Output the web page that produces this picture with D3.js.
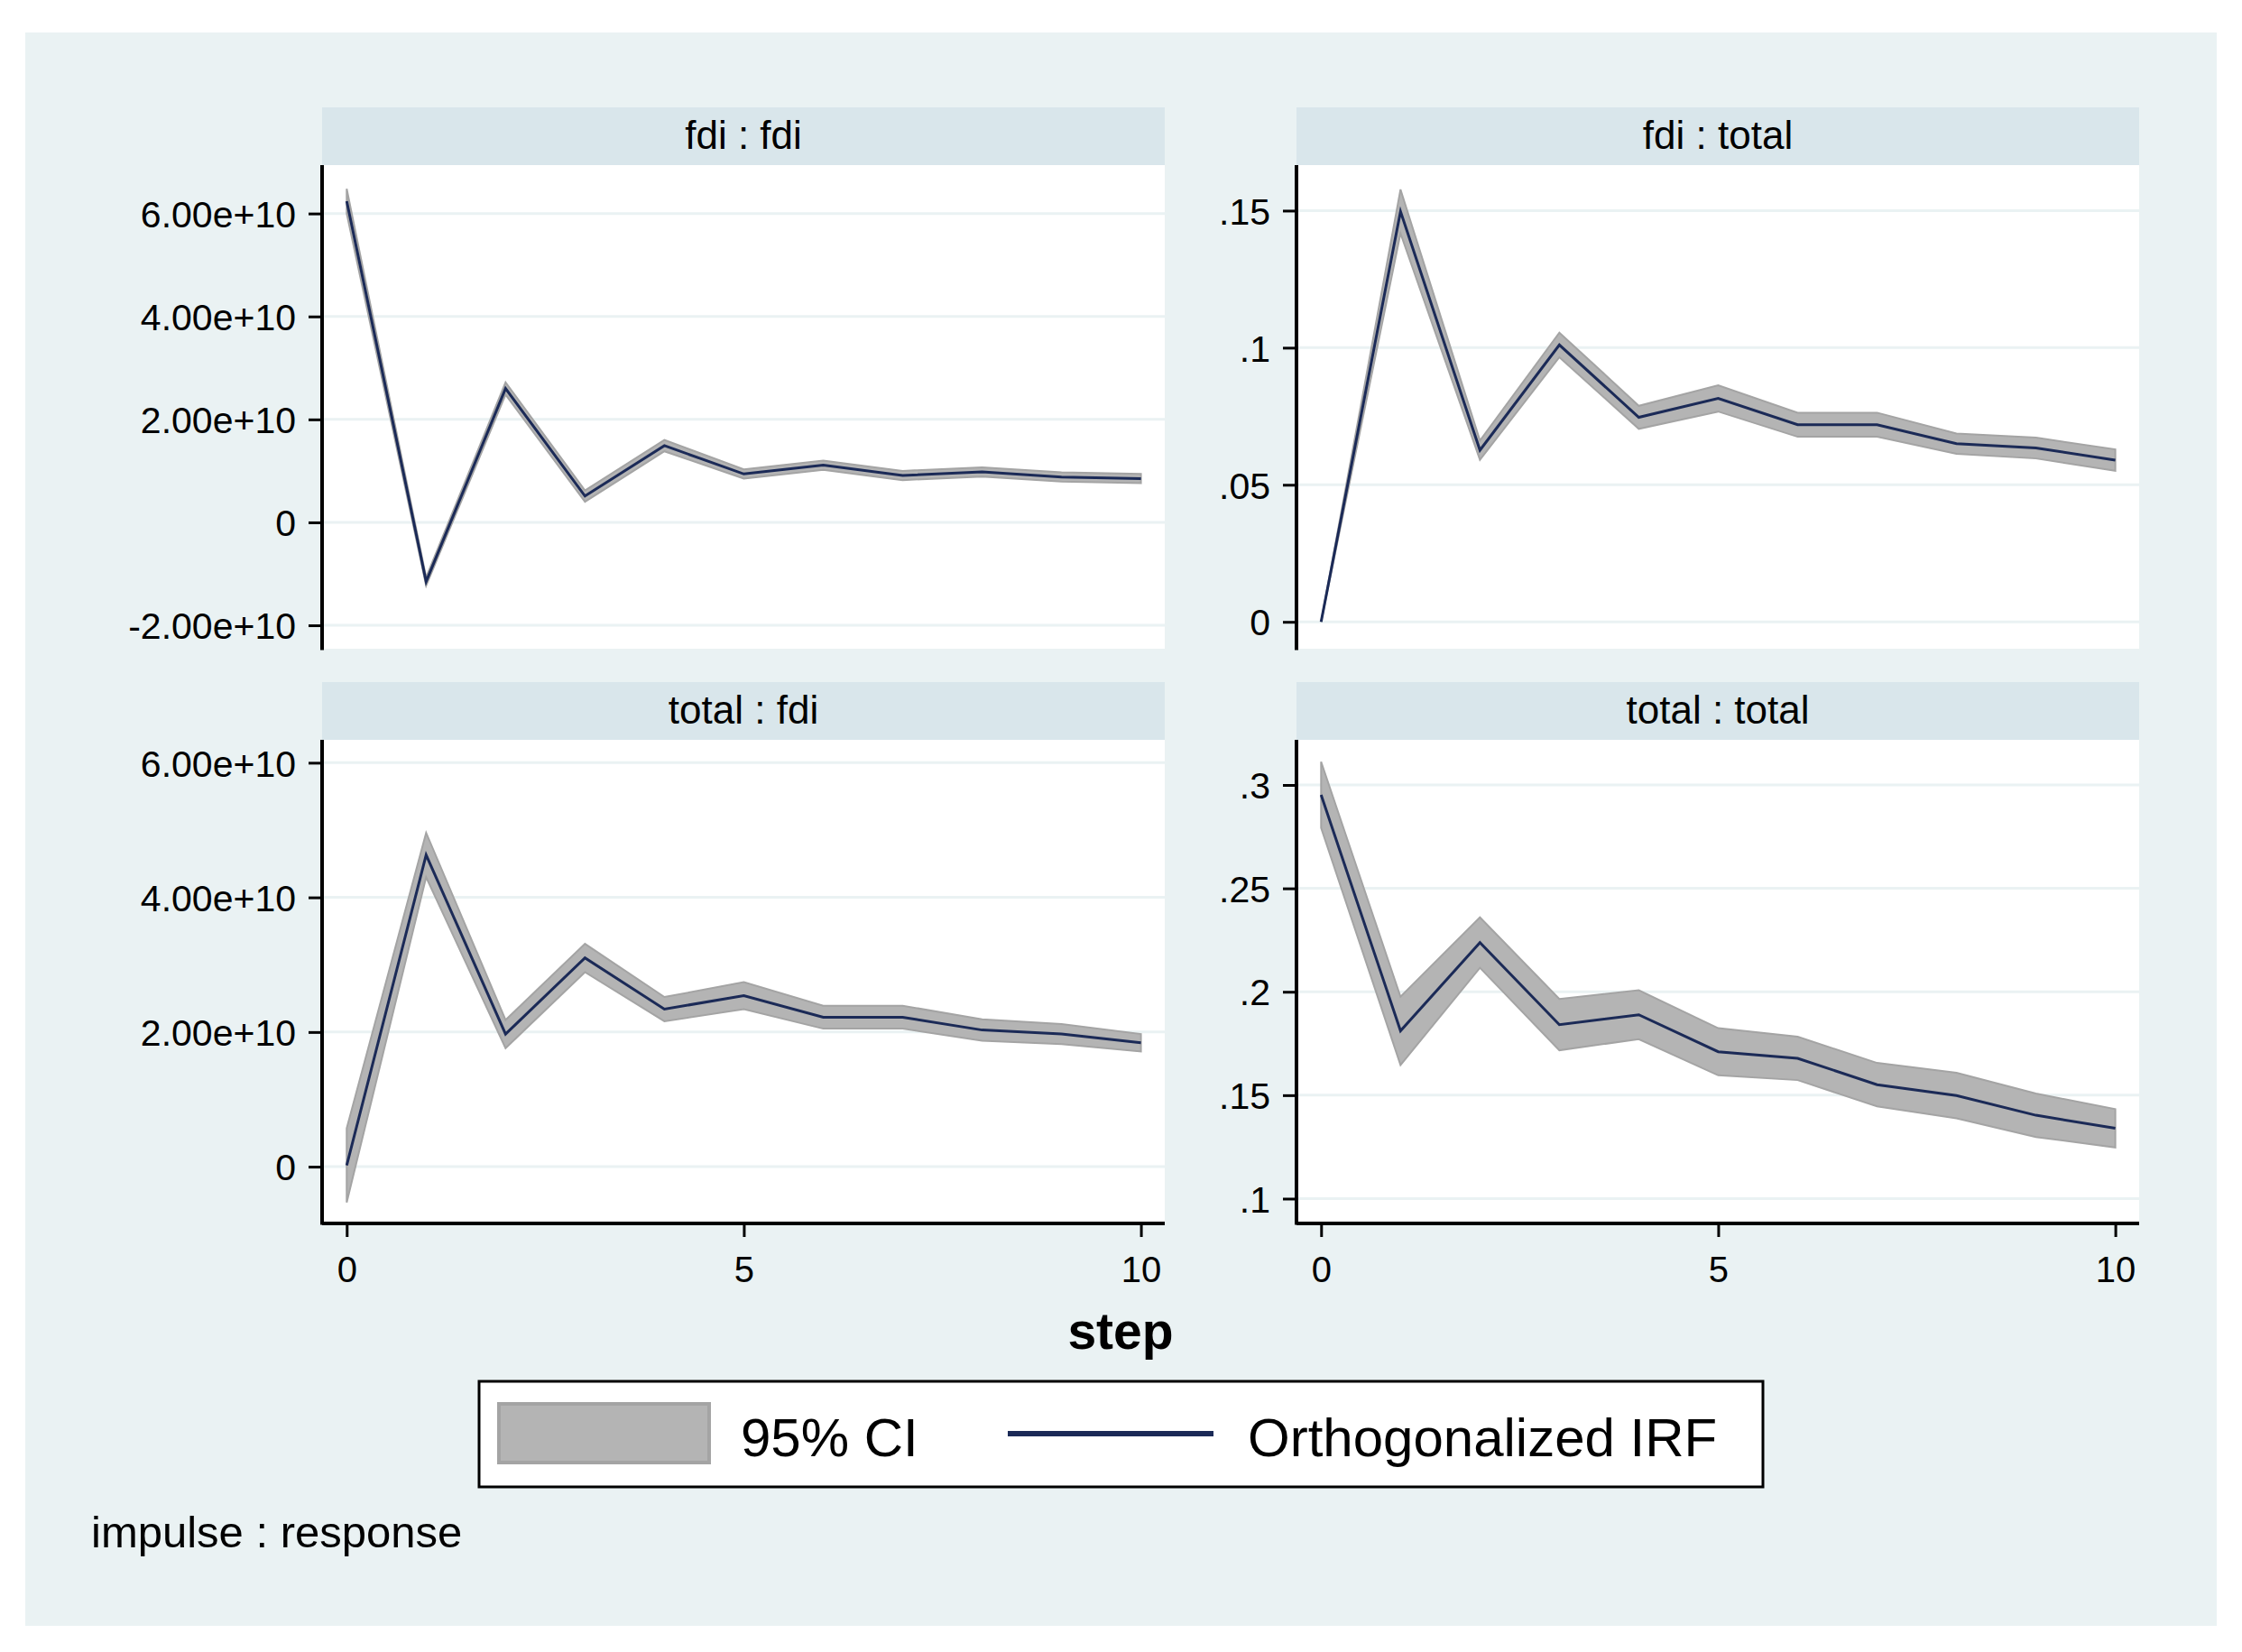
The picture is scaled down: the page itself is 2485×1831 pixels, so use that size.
<!DOCTYPE html>
<html>
<head>
<meta charset="utf-8">
<script src="https://cdn.jsdelivr.net/npm/d3@7"></script>
<style>
  html, body { margin: 0; padding: 0; background: #ffffff; }
  svg { display: block; }
  text { font-family: "Liberation Sans", Arial, sans-serif; fill: #000000; }
</style>
</head>
<body>
<div id="chart"></div>
<script>
/*global d3*/

// impulse : response panels, in the order they are laid out
var panelTitles = ["fdi : fdi", "fdi : total", "total : fdi", "total : total"];
var steps = [0, 1, 2, 3, 4, 5, 6, 7, 8, 9, 10];
var xTicks = [0, 5, 10];

// orthogonalized IRF, one array per panel
var irfFdiFdi = [6.24e10, -1.15e10, 2.60e10, 0.51e10, 1.49e10, 0.94e10,
  1.11e10, 0.91e10, 0.98e10, 0.88e10, 0.85e10];
var irfFdiTotal = [0, 0.1497, 0.0626, 0.101, 0.0746, 0.0815,
  0.0719, 0.0719, 0.065, 0.0634, 0.059];
var irfTotalFdi = [0.02e10, 4.63e10, 1.97e10, 3.10e10, 2.34e10, 2.54e10,
  2.22e10, 2.22e10, 2.03e10, 1.97e10, 1.84e10];
var irfTotalTotal = [0.2952, 0.1811, 0.2238, 0.1841, 0.1889, 0.171,
  0.1678, 0.1551, 0.1498, 0.1403, 0.134];

// 95% CI bounds
var loFdiFdi = [6.00e10, -1.23e10, 2.48e10, 0.40e10, 1.38e10, 0.85e10,
  1.02e10, 0.82e10, 0.89e10, 0.79e10, 0.76e10];
var hiFdiFdi = [6.48e10, -1.07e10, 2.72e10, 0.62e10, 1.60e10, 1.03e10,
  1.20e10, 1.00e10, 1.07e10, 0.97e10, 0.94e10];
var loFdiTotal = [0, 0.1417, 0.0591, 0.0965, 0.0704, 0.0767,
  0.0675, 0.0675, 0.0613, 0.0596, 0.0551];
var hiFdiTotal = [0, 0.1577, 0.0661, 0.1055, 0.0788, 0.0863,
  0.0763, 0.0763, 0.0687, 0.0672, 0.0629];
var loTotalFdi = [-0.53e10, 4.30e10, 1.76e10, 2.89e10, 2.16e10, 2.34e10,
  2.05e10, 2.05e10, 1.87e10, 1.82e10, 1.71e10];
var hiTotalFdi = [0.57e10, 4.96e10, 2.18e10, 3.31e10, 2.52e10, 2.74e10,
  2.39e10, 2.39e10, 2.19e10, 2.12e10, 1.97e10];
var loTotalTotal = [0.2792, 0.1646, 0.2116, 0.1717, 0.1771, 0.1596,
  0.1573, 0.1446, 0.1388, 0.1298, 0.1247];
var hiTotalTotal = [0.3112, 0.1976, 0.236, 0.1965, 0.2007, 0.1824,
  0.1783, 0.1656, 0.1608, 0.1508, 0.1433];

// y axis ticks and their labels
var yTicksFdi1 = [-2e10, 0, 2e10, 4e10, 6e10];
var yLabelsFdi1 = ["-2.00e+10", "0", "2.00e+10", "4.00e+10", "6.00e+10"];
var yTicksTotal1 = [0, 0.05, 0.1, 0.15];
var yLabelsTotal1 = ["0", ".05", ".1", ".15"];
var yTicksFdi2 = [0, 2e10, 4e10, 6e10];
var yLabelsFdi2 = ["0", "2.00e+10", "4.00e+10", "6.00e+10"];
var yTicksTotal2 = [0.1, 0.15, 0.2, 0.25, 0.3];
var yLabelsTotal2 = [".1", ".15", ".2", ".25", ".3"];

var legendLabels = ["95% CI", "Orthogonalized IRF"];

(function () {
  "use strict";

  var W = 2485,
    H = 1831,
    colX = [357, 1437],
    rowY = [119, 756],
    panelW = 934,
    headH = 64,
    plotH = 536,
    lineColor = "#1b2a57",
    ciFill = "#b4b4b4",
    ciStroke = "#a4a4a4",
    gridColor = "#eaf2f3",
    svg,
    panels;

  panels = [
    { irf: irfFdiFdi, lo: loFdiFdi, hi: hiFdiFdi, dom: [-2.455e10, 6.94e10],
      ticks: yTicksFdi1, labels: yLabelsFdi1, col: 0, row: 0 },
    { irf: irfFdiTotal, lo: loFdiTotal, hi: hiFdiTotal, dom: [-0.0098, 0.1666],
      ticks: yTicksTotal1, labels: yLabelsTotal1, col: 1, row: 0 },
    { irf: irfTotalFdi, lo: loTotalFdi, hi: hiTotalFdi, dom: [-0.843e10, 6.34e10],
      ticks: yTicksFdi2, labels: yLabelsFdi2, col: 0, row: 1 },
    { irf: irfTotalTotal, lo: loTotalTotal, hi: hiTotalTotal, dom: [0.088, 0.3218],
      ticks: yTicksTotal2, labels: yLabelsTotal2, col: 1, row: 1 }
  ];

  svg = d3.select("#chart").append("svg")
    .attr("width", W)
    .attr("height", H);

  svg.append("rect")
    .attr("width", W).attr("height", H)
    .attr("fill", "#ffffff");

  // outer graph region
  svg.append("rect")
    .attr("x", 28).attr("y", 36)
    .attr("width", 2429).attr("height", 1766)
    .attr("fill", "#eaf2f3");

  panels.forEach(function (p, i) {
    var x0 = colX[p.col],
      y0 = rowY[p.row],
      top = y0 + headH,
      g = svg.append("g"),
      x = d3.scaleLinear().domain([-0.31, 10.3]).range([x0, x0 + panelW]),
      y = d3.scaleLinear().domain(p.dom).range([top + plotH, top]),
      area,
      line;

    // strip header
    g.append("rect")
      .attr("x", x0).attr("y", y0)
      .attr("width", panelW).attr("height", headH)
      .attr("fill", "#d9e6eb");
    g.append("text")
      .attr("x", x0 + panelW / 2)
      .attr("y", y0 + headH / 2 + 14)
      .attr("text-anchor", "middle")
      .attr("font-size", 44)
      .text(panelTitles[i]);

    // plot region
    g.append("rect")
      .attr("x", x0).attr("y", top)
      .attr("width", panelW).attr("height", plotH)
      .attr("fill", "#ffffff");

    g.selectAll(".grid")
      .data(p.ticks)
      .enter().append("line")
      .attr("class", "grid")
      .attr("x1", x0).attr("x2", x0 + panelW)
      .attr("y1", y).attr("y2", y)
      .attr("stroke", gridColor)
      .attr("stroke-width", 3);

    area = d3.area()
      .x(function (d, k) { return x(steps[k]); })
      .y0(function (d, k) { return y(p.lo[k]); })
      .y1(function (d, k) { return y(p.hi[k]); });
    line = d3.line()
      .x(function (d, k) { return x(steps[k]); })
      .y(function (d) { return y(d); });

    g.append("path")
      .datum(p.irf)
      .attr("d", area)
      .attr("fill", ciFill)
      .attr("stroke", ciStroke)
      .attr("stroke-width", 2);
    g.append("path")
      .datum(p.irf)
      .attr("d", line)
      .attr("fill", "none")
      .attr("stroke", lineColor)
      .attr("stroke-width", 3);

    // y axis
    g.append("g")
      .attr("transform", "translate(" + x0 + ",0)")
      .call(d3.axisLeft(y)
        .tickValues(p.ticks)
        .tickSize(15)
        .tickPadding(14)
        .tickFormat(function (d, k) { return p.labels[k]; }))
      .call(function (a) {
        a.select(".domain")
          .attr("d", "M0," + top + "V" + (top + plotH + 1.5))
          .attr("stroke-width", 4);
        a.selectAll(".tick line").attr("stroke-width", 3);
        a.selectAll(".tick text")
          .attr("font-size", 41)
          .attr("font-family", "Liberation Sans, Arial, sans-serif")
          .attr("dy", "0.36em");
      });

    // x axis only on the bottom row
    if (p.row === 1) {
      g.append("g")
        .attr("transform", "translate(0," + (top + plotH) + ")")
        .call(d3.axisBottom(x)
          .tickValues(xTicks)
          .tickSize(15)
          .tickPadding(22)
          .tickFormat(d3.format("d")))
        .call(function (a) {
          a.select(".domain")
            .attr("d", "M" + x0 + ",0H" + (x0 + panelW))
            .attr("stroke-width", 4);
          a.selectAll(".tick line").attr("stroke-width", 3);
          a.selectAll(".tick text")
            .attr("font-size", 40)
            .attr("font-family", "Liberation Sans, Arial, sans-serif");
        });
    }
  });

  svg.append("text")
    .attr("x", 1242).attr("y", 1495)
    .attr("text-anchor", "middle")
    .attr("font-size", 57)
    .attr("font-weight", "bold")
    .text("step");

  // legend
  var leg = svg.append("g");
  leg.append("rect")
    .attr("x", 531).attr("y", 1531)
    .attr("width", 1423).attr("height", 117)
    .attr("fill", "#ffffff")
    .attr("stroke", "#000000")
    .attr("stroke-width", 3);
  leg.append("rect")
    .attr("x", 553).attr("y", 1556)
    .attr("width", 233).attr("height", 65)
    .attr("fill", ciFill)
    .attr("stroke", ciStroke)
    .attr("stroke-width", 4);
  leg.append("text")
    .attr("x", 821).attr("y", 1614)
    .attr("font-size", 60)
    .text(legendLabels[0]);
  leg.append("line")
    .attr("x1", 1117).attr("x2", 1345)
    .attr("y1", 1589).attr("y2", 1589)
    .attr("stroke", lineColor)
    .attr("stroke-width", 6);
  leg.append("text")
    .attr("x", 1383).attr("y", 1614)
    .attr("font-size", 60)
    .text(legendLabels[1]);

  svg.append("text")
    .attr("x", 101).attr("y", 1715)
    .attr("font-size", 49)
    .text("impulse : response");
}());
</script>
</body>
</html>
